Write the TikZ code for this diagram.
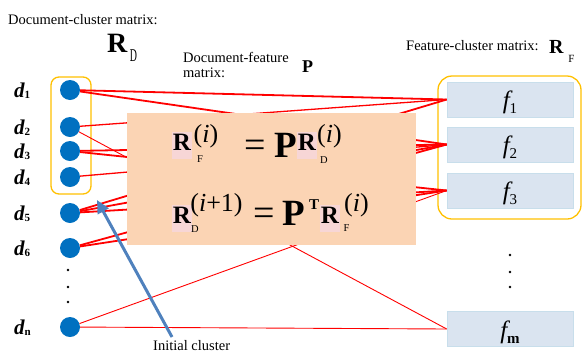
\documentclass[tikz,border=0pt]{standalone}
\usepackage{fontspec}
\setmainfont{Liberation Serif}
\usepackage{graphicx}
\usepackage{tikz}
\usetikzlibrary{arrows.meta}
\definecolor{dotblue}{RGB}{0,112,192}
\definecolor{grpgold}{RGB}{255,192,0}
\definecolor{eqpeach}{RGB}{251,212,180}
\definecolor{fcell}{RGB}{218,228,240}
\definecolor{fline}{RGB}{200,222,235}
\definecolor{hlpink}{RGB}{247,214,214}
\definecolor{arrblue}{RGB}{79,129,189}
\newcommand{\fsz}[1]{\fontsize{#1}{#1}\selectfont}

\begin{document}
\begin{tikzpicture}[x=1pt,y=-1pt,
  doc/.style={circle,fill=dotblue,minimum size=20pt,inner sep=0},
  dlab/.style={inner sep=0,anchor=base west,font=\fsz{21}\bfseries\itshape},
  feat/.style={rectangle,fill=fcell,draw=fline,line width=0.6pt,minimum width=126pt,minimum height=35pt,inner sep=0,text height=20pt,text depth=2pt},
  grp/.style={draw=grpgold,line width=1.3pt},
  link/.style={draw=red,line width=1.8pt},
  mid link/.style={draw=red,line width=1.3pt},
  thin link/.style={draw=red,line width=0.9pt},
  txt/.style={inner sep=0,anchor=base west,font=\fsz{14.5}},
  bigR/.style={inner sep=0,anchor=base,font=\fsz{25}\bfseries,fill=hlpink,text height=18pt,text depth=9pt,minimum width=20pt},
  sub/.style={inner sep=0,font=\fsz{10.5}},
  sup/.style={inner sep=0,font=\fsz{26}},
  eqsign/.style={inner sep=0,anchor=base,font=\fsz{38}},
  bigP/.style={inner sep=0,anchor=base,font=\fsz{37}\bfseries}]
\useasboundingbox (0,0) rectangle (583,354);
\draw[grp,rounded corners=8pt] (51,77) rectangle (91,194);
\draw[grp,rounded corners=14pt] (438,76) rectangle (581,219);
\foreach \n/\y in {1/90,2/127,3/151,4/177,5/213,6/248,n/327} {
  \node[doc] (d\n) at (70,\y) {};
  \node[dlab] (ld\n) at (14,\y+7) {d\raisebox{-1pt}{\fsz{11}\upshape\n}};
}
\foreach \y in {270,287,302} \fill (68,\y) circle (1.3);
\node[feat] (f1) at (510,99.5) {\fsz{25}\itshape f\raisebox{-5pt}{\fsz{15}\upshape 1}};
\node[feat] (f2) at (510,144.5) {\fsz{25}\itshape f\raisebox{-5pt}{\fsz{15}\upshape 2}};
\node[feat] (f3) at (510,190.5) {\fsz{25}\itshape f\raisebox{-5pt}{\fsz{15}\upshape 3}};
\node[feat] (fm) at (510,329) {\fsz{25}\itshape f\raisebox{-5pt}{\fsz{15}\upshape\bfseries m}};
\foreach \y in {255,272,287} \fill (510,\y) circle (1.3);
\foreach \a/\b in {1/1,1/2,3/2,3/3,5/1,5/2,5/3,6/2,6/3} \draw[link] (d\a) -- (f\b.west);
\foreach \a/\b in {2/1,4/2} \draw[mid link] (d\a) -- (f\b.west);
\foreach \a/\b in {2/m,n/3,n/m} \draw[thin link] (d\a) -- (f\b.west);
\node[fill=eqpeach,minimum width=289pt,minimum height=132pt,inner sep=0] (eqbox) at (271.5,179) {};
\node[bigR] (r1a) at (182,150) {R};
\node[sub] (r1as) at (200,159.5) {F};
\node[sup] (r1ap) at (206,136.5) {(\textit{i})};
\node[eqsign] (eq1) at (255,157.5) {=};
\node[bigP] (p1) at (286,157) {P};
\node[bigR] (r1b) at (307,150) {R};
\node[sub] (r1bs) at (324,160.5) {D};
\node[sup] (r1bp) at (329.5,136.5) {(\textit{i})};
\node[bigR] (r2a) at (182,223) {R};
\node[sub] (r2as) at (195,229) {D};
\node[sup] (r2ap) at (216.5,205) {(\textit{i}+1)};
\node[eqsign] (eq2) at (264,225) {=};
\node[bigP] (p2) at (294,225) {P};
\node[inner sep=0,font=\fsz{15}\bfseries] (t2) at (314,205) {T};
\node[bigR] (r2b) at (330,223) {R};
\node[sub] (r2bs) at (346.5,228.5) {F};
\node[sup] (r2bp) at (356.5,205) {(\textit{i})};
\node[txt] (dcm) at (8,24) {Document-cluster matrix:};
\node[inner sep=0,anchor=base west,font=\fsz{28}\bfseries] (rd) at (107,52) {R};
\node[inner sep=0,font=\fsz{18}] (rds) at (133.5,56) {\scalebox{0.55}[1]{D}};
\node[inner sep=0,anchor=north west,align=left,font=\fontsize{14.5}{15}\selectfont] (dfm) at (183,52) {Document-feature\\matrix:};
\node[inner sep=0,anchor=base west,font=\fsz{18}\bfseries] (ph) at (302,72) {P};
\node[txt] (fcm) at (406,50) {Feature-cluster matrix:};
\node[inner sep=0,anchor=base west,font=\fsz{20}\bfseries] (rf) at (549,53) {R};
\node[inner sep=0,font=\fsz{11}] (rfs) at (571.5,58.5) {F};
\node[txt] (init) at (153,350) {Initial cluster};
\coordinate (tail) at (172,337);
\coordinate (tip) at (97,200);
\draw[arrblue,line width=3pt,-{Triangle[length=13pt,width=12pt]}] (tail) -- (tip);
\end{tikzpicture}
\end{document}
